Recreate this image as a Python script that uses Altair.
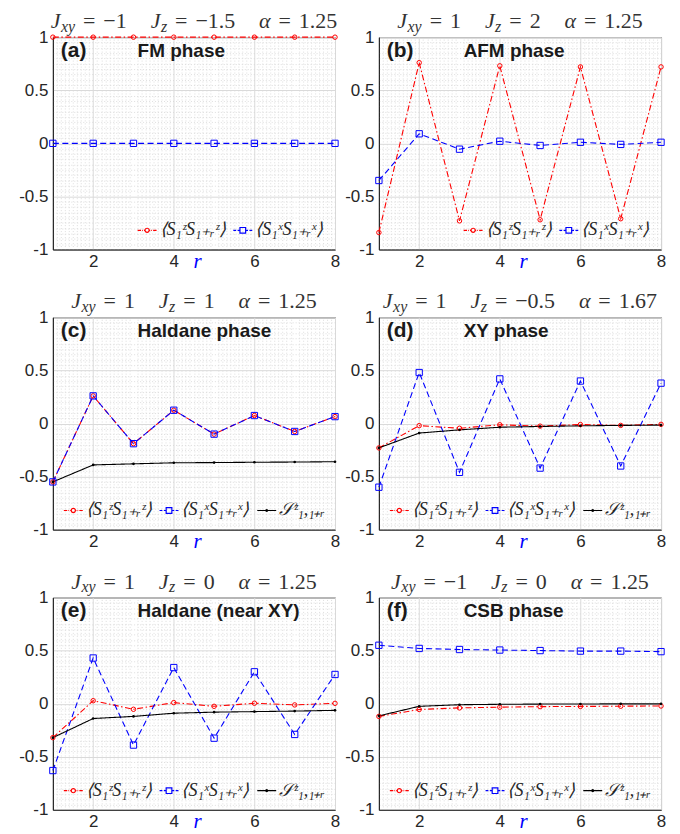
import altair as alt
import pandas as pd

# ---------------- data ----------------
R = [1, 2, 3, 4, 5, 6, 7, 8]

szz_a = [1, 1, 1, 1, 1, 1, 1, 1]
sxx_a = [0, 0, 0, 0, 0, 0, 0, 0]

szz_b = [-0.84, 0.76, -0.73, 0.73, -0.72, 0.72, -0.71, 0.72]
sxx_b = [-0.35, 0.09, -0.055, 0.02, -0.02, 0.01, -0.01, 0.01]

szz_c = [-0.55, 0.26, -0.19, 0.125, -0.10, 0.075, -0.075, 0.065]
sxx_c = [-0.55, 0.26, -0.19, 0.125, -0.10, 0.075, -0.075, 0.065]
str_c = [-0.55, -0.39, -0.38, -0.37, -0.368, -0.365, -0.363, -0.36]

szz_d = [-0.23, -0.02, -0.045, -0.012, -0.025, -0.01, -0.018, -0.008]
sxx_d = [-0.60, 0.48, -0.46, 0.42, -0.42, 0.40, -0.40, 0.38]
str_d = [-0.23, -0.09, -0.06, -0.035, -0.028, -0.022, -0.018, -0.015]

szz_e = [-0.32, 0.028, -0.053, 0.01, -0.025, 0.004, -0.012, 0.003]
sxx_e = [-0.63, 0.43, -0.39, 0.34, -0.325, 0.30, -0.29, 0.275]
str_e = [-0.32, -0.14, -0.12, -0.09, -0.08, -0.075, -0.07, -0.063]

szz_f = [-0.12, -0.055, -0.04, -0.033, -0.028, -0.026, -0.024, -0.022]
sxx_f = [0.55, 0.52, 0.51, 0.505, 0.50, 0.495, 0.495, 0.49]
str_f = [-0.115, -0.025, -0.01, -0.006, -0.004, -0.003, -0.002, -0.002]

LBL_ZZ = "⟨S₁ᶻS₁₊ᵣᶻ⟩"
LBL_XX = "⟨S₁ˣS₁₊ᵣˣ⟩"
LBL_ST = "𝒮ᶻ₁,₁₊ᵣ"

panel_labels = ["(a)", "(b)", "(c)", "(d)", "(e)", "(f)"]
phase_names = ["FM phase", "AFM phase", "Haldane phase", "XY phase",
               "Haldane (near XY)", "CSB phase"]
jxy_vals = ["−1", "1", "1", "1", "1", "−1"]
jz_vals = ["−1.5", "2", "1", "−0.5", "0", "0"]
alpha_vals = ["1.25", "1.25", "1.25", "1.67", "1.25", "1.25"]

panel_series = [
    {LBL_ZZ: szz_a, LBL_XX: sxx_a},
    {LBL_ZZ: szz_b, LBL_XX: sxx_b},
    {LBL_ZZ: szz_c, LBL_XX: sxx_c, LBL_ST: str_c},
    {LBL_ZZ: szz_d, LBL_XX: sxx_d, LBL_ST: str_d},
    {LBL_ZZ: szz_e, LBL_XX: sxx_e, LBL_ST: str_e},
    {LBL_ZZ: szz_f, LBL_XX: sxx_f, LBL_ST: str_f},
]

y_major = [-1, -0.5, 0, 0.5, 1]
x_major = [2, 4, 6, 8]
y_minor = [round(-1 + 0.05 * i, 2) for i in range(41) if i % 10]
x_minor = [round(1 + 0.1 * i, 1) for i in range(71) if (i % 10) and ((10 + i) % 20)]

# ---------------- styles ----------------
W, H = 283, 213
TXT = "#262626"
GRID = "#dadada"
MINOR = "#d6d6d6"

STYLE = {
    LBL_ZZ: dict(color="#ff0000", dash=[6, 2.5, 1.5, 2.5], shape="circle", size=20, filled=False,
                 path="M-1,0H-0.64M-0.52,0H-0.44M-0.33,0H-0.22M0.22,0H0.33M0.44,0H0.52M0.64,0H1"
                      "M0.22,0A0.22,0.22,0,1,1,-0.22,0A0.22,0.22,0,1,1,0.22,0"),
    LBL_XX: dict(color="#0000ff", dash=[6, 3.5], shape="square", size=40, filled=False,
                 path="M-1,0H-0.7M-0.55,0H-0.3M0.3,0H0.55M0.7,0H1"
                      "M-0.3,-0.3H0.3V0.3H-0.3Z"),
    LBL_ST: dict(color="#000000", dash=[1, 0], shape="circle", size=7, filled=True,
                 path="M-1,0H1M0.1,0A0.1,0.1,0,1,1,-0.1,0A0.1,0.1,0,1,1,0.1,0"),
}

# approximate advance widths (em) for Liberation Serif
W_ROMAN = {" ": 0.25, "=": 0.564, "−": 0.564, ".": 0.25, **{d: 0.5 for d in "0123456789"}}
W_ITAL = {"J": 0.444, "x": 0.444, "y": 0.444, "z": 0.389, "α": 0.52}
F_MAIN, F_SUB = 22, 16


def tw(s, table, size):
    return sum(table[c] for c in s) * size


def title_segments(jxy, jz, al):
    terms = [("J", "xy", jxy), ("J", "z", jz), ("α", "", al)]
    segs = []
    x = 0.0
    gap_eq, gap_term = 8, 24
    for i, (sym, sub, val) in enumerate(terms):
        if i:
            x += gap_term
        segs.append(dict(t=sym, x=x, it=1, fs=F_MAIN, dy=0))
        x += tw(sym, W_ITAL, F_MAIN)
        if sub:
            segs.append(dict(t=sub, x=x + 0.5, it=1, fs=F_SUB, dy=4))
            x += tw(sub, W_ITAL, F_SUB) + 0.5
        x += gap_eq
        segs.append(dict(t="=", x=x, it=0, fs=F_MAIN, dy=0))
        x += tw("=", W_ROMAN, F_MAIN) + gap_eq
        segs.append(dict(t=val, x=x, it=0, fs=F_MAIN, dy=0))
        x += tw(val, W_ROMAN, F_MAIN)
    off = (W - x) / 2
    for s in segs:
        s["x"] += off
        s["y"] = -9 + s["dy"]
    return pd.DataFrame(segs)


def make_legend():
    return alt.Legend(title=None, orient="bottom-right", direction="horizontal",
                      offset=10, padding=0, symbolSize=361,
                      symbolStrokeWidth=1.2, symbolOpacity=1,
                      labelFont="Liberation Serif", labelFontStyle="italic",
                      labelFontSize=18, labelColor=TXT, labelOffset=2,
                      columnPadding=3)


def make_panel(i):
    series = panel_series[i]
    names = list(series.keys())
    df = pd.DataFrame([dict(r=r, value=v, series=n)
                       for n in names for r, v in zip(R, series[n])])
    xs = alt.Scale(domain=[1, 8], nice=False, zero=False)
    ys = alt.Scale(domain=[-1, 1], nice=False, zero=False)

    # main axes layer (major grid, labels) + legend holder (invisible marks)
    main_axes = alt.Chart(df).mark_point(opacity=0, filled=False).encode(
        x=alt.X("r:Q", scale=xs,
                axis=alt.Axis(values=x_major, grid=True, gridColor=GRID, ticks=False,
                              domainColor=TXT, labelFont="Liberation Sans", labelFontSize=17,
                              labelColor=TXT, labelPadding=4, labelFlush=False,
                              title="r", titleFont="Liberation Serif", titleFontStyle="italic",
                              titleFontWeight="normal", titleFontSize=21, titleColor="#0000ff",
                              titleX=(4.58 - 1) / 7 * W, titleY=18, titleBaseline="alphabetic",
                              titleAlign="center")),
        y=alt.Y("value:Q", scale=ys,
                axis=alt.Axis(values=y_major, grid=True, gridColor=GRID, ticks=False,
                              domainColor=TXT, labelFont="Liberation Sans", labelFontSize=17,
                              labelColor=TXT, labelPadding=5, labelExpr="'' + datum.value",
                              title=None)),
        color=alt.Color("series:N",
                        scale=alt.Scale(domain=names, range=[STYLE[n]["color"] for n in names]),
                        legend=make_legend()),
        shape=alt.Shape("series:N",
                        scale=alt.Scale(domain=names, range=[STYLE[n]["path"] for n in names]),
                        legend=make_legend()),
    )

    minor_axes = alt.Chart(df).mark_point(opacity=0).encode(
        x=alt.X("r:Q", scale=xs,
                axis=alt.Axis(orient="top", values=x_minor, grid=True, gridColor=MINOR,
                              gridDash=[1, 2], gridWidth=0.8, ticks=False, labels=False,
                              domain=False, title=None)),
        y=alt.Y("value:Q", scale=ys,
                axis=alt.Axis(orient="right", values=y_minor, grid=True, gridColor=MINOR,
                              gridDash=[1, 2], gridWidth=0.8, ticks=False, labels=False,
                              domain=False, title=None)),
    )

    layers = [minor_axes, main_axes]
    for n in names:
        st = STYLE[n]
        sub = alt.Chart(df).transform_filter(alt.datum.series == n)
        layers.append(sub.mark_line(color=st["color"], strokeDash=st["dash"], strokeWidth=1.1).encode(
            x=alt.X("r:Q", scale=xs, axis=None), y=alt.Y("value:Q", scale=ys, axis=None)))
    for n in names:
        st = STYLE[n]
        sub = alt.Chart(df).transform_filter(alt.datum.series == n)
        layers.append(sub.mark_point(shape=st["shape"], size=st["size"], filled=st["filled"],
                                     color=st["color"], strokeWidth=1, opacity=1).encode(
            x=alt.X("r:Q", scale=xs, axis=None), y=alt.Y("value:Q", scale=ys, axis=None)))

    ann = pd.DataFrame([dict(lbl=panel_labels[i], phase=phase_names[i])])
    layers.append(alt.Chart(ann).mark_text(align="left", baseline="middle", font="Liberation Sans",
                                           fontWeight="bold", fontSize=21, color="#1a1a1a").encode(
        text="lbl:N", x=alt.value(8), y=alt.value(14)))
    layers.append(alt.Chart(ann).mark_text(align="left", baseline="middle", font="Liberation Sans",
                                           fontWeight="bold", fontSize=19, color="#1a1a1a").encode(
        text="phase:N", x=alt.value(85), y=alt.value(14)))

    segs = title_segments(jxy_vals[i], jz_vals[i], alpha_vals[i])
    for it, style in [(1, "italic"), (0, "normal")]:
        part = segs[segs["it"] == it]
        layers.append(alt.Chart(part).mark_text(align="left", baseline="alphabetic",
                                                font="Liberation Serif", fontStyle=style,
                                                color="#333333").encode(
            text="t:N",
            x=alt.X("x:Q", scale=None, axis=None),
            y=alt.Y("y:Q", scale=None, axis=None),
            size=alt.Size("fs:Q", scale=None, legend=None)))

    return alt.layer(*layers).resolve_axis(x="independent", y="independent").properties(
        width=W, height=H)


panels = [make_panel(i) for i in range(6)]

chart = alt.concat(*panels, columns=2, spacing={"row": 68, "column": 44}, bounds="flush").resolve_scale(
    color="independent", shape="independent").properties(
    padding={"left": 10, "top": 0, "right": 5, "bottom": 5}, background="white"
).configure_view(stroke=TXT, strokeWidth=1)

chart.save("out.html", embed_options={"renderer": "svg", "actions": False})
